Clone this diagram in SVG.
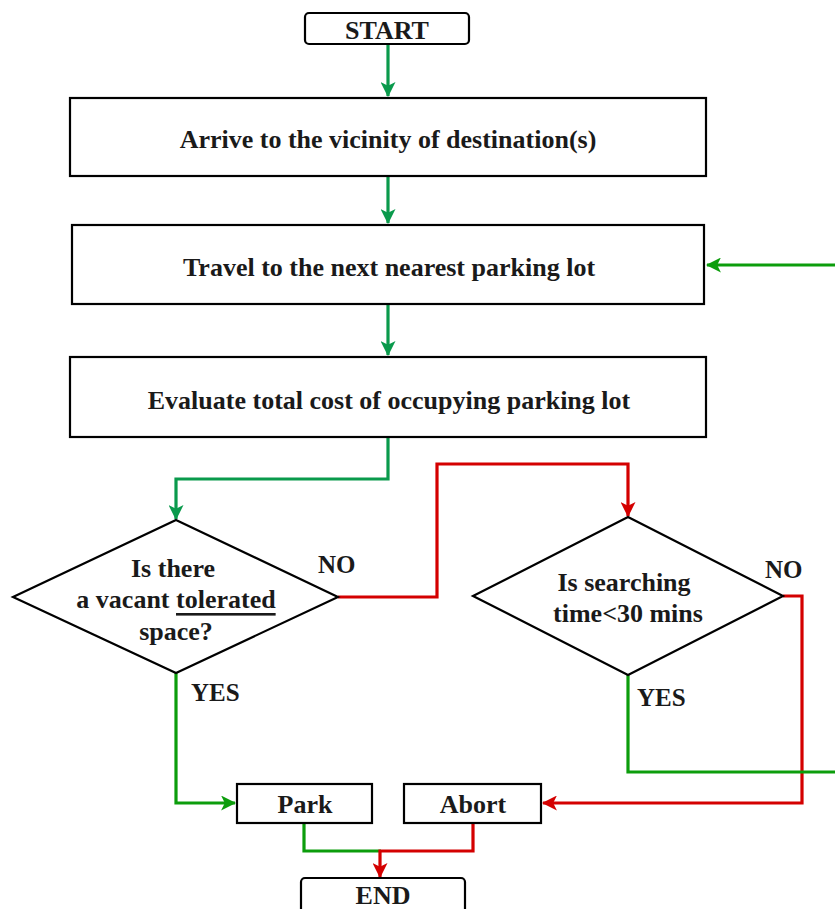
<svg xmlns="http://www.w3.org/2000/svg" width="835" height="909" viewBox="0 0 835 909">
  <style>
    .box { fill: #ffffff; stroke: #000000; stroke-width: 2.2; }
    .lbl { font-family: "Liberation Serif", "Times New Roman", serif; font-weight: bold; font-size: 26px; fill: #1a1a1a; text-anchor: middle; dominant-baseline: central; }
    .tag { font-family: "Liberation Serif", "Times New Roman", serif; font-weight: bold; font-size: 25px; fill: #1a1a1a; }
    .wire { fill: none; stroke-width: 3.2; }
    .g1 { stroke: #0a9a4c; }
    .g2 { stroke: #0c9d0c; }
    .r { stroke: #d40000; }
  </style>
  <defs>
    <marker id="ah-g1" viewBox="0 0 14 14" refX="13" refY="7" markerWidth="15" markerHeight="15" markerUnits="userSpaceOnUse" orient="auto">
      <path d="M0,0 L14,7 L0,14 L3.5,7 Z" fill="#0a9a4c"/>
    </marker>
    <marker id="ah-g2" viewBox="0 0 14 14" refX="13" refY="7" markerWidth="15" markerHeight="15" markerUnits="userSpaceOnUse" orient="auto">
      <path d="M0,0 L14,7 L0,14 L3.5,7 Z" fill="#0c9d0c"/>
    </marker>
    <marker id="ah-r" viewBox="0 0 14 14" refX="13" refY="7" markerWidth="15" markerHeight="15" markerUnits="userSpaceOnUse" orient="auto">
      <path d="M0,0 L14,7 L0,14 L3.5,7 Z" fill="#d40000"/>
    </marker>
  </defs>

  <g id="connectors">
    <path class="wire g1" d="M388,45 V96" marker-end="url(#ah-g1)"/>
    <path class="wire g1" d="M388,177 V223" marker-end="url(#ah-g1)"/>
    <path class="wire g2" d="M835,265 H707" marker-end="url(#ah-g2)"/>
    <path class="wire g1" d="M388,305 V355" marker-end="url(#ah-g1)"/>
    <path class="wire g1" d="M388,438 V479 H176 V519" marker-end="url(#ah-g1)"/>
    <path class="wire r" d="M338,597 H437 V464 H628 V516" marker-end="url(#ah-r)"/>
    <path class="wire r" d="M783,596 H802 V803 H543" marker-end="url(#ah-r)"/>
    <path class="wire g2" d="M628,675 V772 H835"/>
    <path class="wire g2" d="M176,673 V803 H235" marker-end="url(#ah-g2)"/>
    <path class="wire g2" d="M304,824 V851 H381"/>
    <path class="wire r" d="M473,824 V851 H380 V877" marker-end="url(#ah-r)"/>
  </g>

  <g id="start">
    <rect class="box" x="305" y="13" width="164" height="31" rx="4"/>
    <text class="lbl" x="387" y="30">START</text>
  </g>

  <g id="arrive">
    <rect class="box" x="70" y="98" width="636" height="78"/>
    <text class="lbl" x="388" y="139">Arrive to the vicinity of destination(s)</text>
  </g>

  <g id="travel">
    <rect class="box" x="72" y="225" width="632" height="79"/>
    <text class="lbl" x="389" y="267">Travel to the next nearest parking lot</text>
  </g>

  <g id="evaluate">
    <rect class="box" x="70" y="357" width="636" height="80"/>
    <text class="lbl" x="389" y="400">Evaluate total cost of occupying parking lot</text>
  </g>

  <g id="vacant">
    <polygon class="box" points="176,520 338,597 176,673 13,597"/>
    <text class="lbl" x="173" y="568">Is there</text>
    <text class="lbl" x="176" y="599">a vacant <tspan text-decoration="underline">tolerated</tspan></text>
    <text class="lbl" x="176" y="631">space?</text>
    <text class="tag" x="318" y="573">NO</text>
    <text class="tag" x="191" y="701">YES</text>
  </g>

  <g id="searching">
    <polygon class="box" points="628,517 783,596 628,675 473,596"/>
    <text class="lbl" x="624" y="582">Is searching</text>
    <text class="lbl" x="628" y="613">time&lt;30 mins</text>
    <text class="tag" x="765" y="578">NO</text>
    <text class="tag" x="637" y="706">YES</text>
  </g>

  <g id="park">
    <rect class="box" x="237" y="784" width="135" height="39"/>
    <text class="lbl" x="305" y="804">Park</text>
  </g>

  <g id="abort">
    <rect class="box" x="404" y="784" width="137" height="39"/>
    <text class="lbl" x="473" y="804">Abort</text>
  </g>

  <g id="end">
    <rect class="box" x="301" y="878" width="164" height="40" rx="4"/>
    <text class="lbl" x="383" y="895">END</text>
  </g>
</svg>
